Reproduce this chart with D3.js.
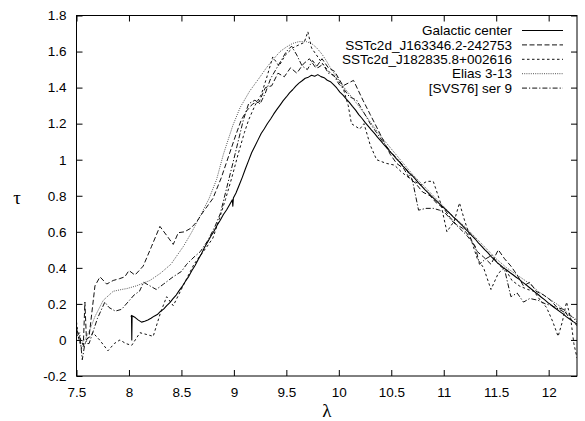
<!DOCTYPE html>
<html>
<head>
<meta charset="utf-8">
<script src="https://cdn.jsdelivr.net/npm/d3@7"></script>
<style>
  body { margin: 0; background: #fff; }
  svg text { font-family: "Liberation Sans", Arial, Helvetica, sans-serif; font-size: 13.5px; fill: #000; }
</style>
</head>
<body>
<svg id="chart" width="585" height="421"></svg>
<script>
// tick values
var xTicks = [7.5, 8, 8.5, 9, 9.5, 10, 10.5, 11, 11.5, 12];
var yTicks = [-0.2, 0, 0.2, 0.4, 0.6, 0.8, 1, 1.2, 1.4, 1.6, 1.8];

// series names, in key order
var names = ["Galactic center", "SSTc2d_J163346.2-242753", "SSTc2d_J182835.8+002616", "Elias 3-13", "[SVS76] ser 9"];

// [lambda, tau] pairs
var galactic = [[8.020,0.128],[8.024,0.136],[8.027,0.0],[8.030,0.134],[8.06,0.124],[8.09,0.110],[8.12,0.099],[8.15,0.104],[8.18,0.111],[8.21,0.120],[8.24,0.132],[8.27,0.141],[8.30,0.158],[8.33,0.171],[8.36,0.190],[8.39,0.207],[8.42,0.229],[8.45,0.249],[8.48,0.275],[8.51,0.299],[8.54,0.327],[8.57,0.353],[8.60,0.385],[8.63,0.413],[8.66,0.447],[8.69,0.477],[8.72,0.513],[8.75,0.543],[8.78,0.575],[8.81,0.603],[8.84,0.637],[8.87,0.664],[8.90,0.696],[8.93,0.721],[8.96,0.752],[8.985,0.777],[8.99,0.742],[8.995,0.787],[9.02,0.815],[9.05,0.858],[9.08,0.902],[9.11,0.950],[9.14,0.995],[9.17,1.040],[9.20,1.075],[9.23,1.110],[9.26,1.145],[9.29,1.172],[9.32,1.201],[9.35,1.226],[9.38,1.254],[9.41,1.279],[9.44,1.303],[9.47,1.328],[9.50,1.348],[9.53,1.371],[9.56,1.388],[9.59,1.408],[9.62,1.425],[9.65,1.438],[9.68,1.452],[9.71,1.458],[9.74,1.468],[9.77,1.463],[9.80,1.472],[9.83,1.461],[9.86,1.455],[9.89,1.441],[9.92,1.433],[9.95,1.417],[9.98,1.398],[10.01,1.375],[10.04,1.358],[10.07,1.337],[10.10,1.318],[10.13,1.296],[10.16,1.275],[10.19,1.250],[10.22,1.230],[10.25,1.207],[10.28,1.186],[10.31,1.165],[10.34,1.146],[10.37,1.124],[10.40,1.104],[10.43,1.083],[10.46,1.064],[10.49,1.043],[10.52,1.025],[10.55,1.004],[10.58,0.987],[10.61,0.964],[10.64,0.948],[10.67,0.927],[10.70,0.911],[10.73,0.892],[10.76,0.872],[10.79,0.853],[10.82,0.834],[10.85,0.817],[10.88,0.799],[10.91,0.783],[10.94,0.766],[10.97,0.749],[11.00,0.734],[11.03,0.717],[11.06,0.701],[11.09,0.683],[11.12,0.667],[11.15,0.649],[11.18,0.633],[11.21,0.614],[11.24,0.597],[11.27,0.577],[11.30,0.560],[11.33,0.539],[11.36,0.521],[11.39,0.501],[11.42,0.484],[11.45,0.464],[11.48,0.447],[11.51,0.429],[11.54,0.415],[11.57,0.400],[11.60,0.388],[11.63,0.374],[11.66,0.362],[11.69,0.348],[11.72,0.336],[11.75,0.321],[11.78,0.308],[11.81,0.294],[11.84,0.280],[11.87,0.265],[11.90,0.252],[11.93,0.237],[11.96,0.224],[11.99,0.208],[12.02,0.196],[12.05,0.181],[12.08,0.169],[12.11,0.156],[12.14,0.143],[12.17,0.128],[12.20,0.116],[12.23,0.103],[12.26,0.092],[12.27,0.088]];

var sst163346 = [[7.50,0.06],[7.54,0.00],[7.565,-0.03],[7.58,0.21],[7.595,0.0],[7.62,0.02],[7.676,0.30],[7.724,0.35],[7.788,0.31],[7.85,0.33],[7.91,0.34],[7.96,0.35],[8.00,0.385],[8.057,0.36],[8.105,0.39],[8.136,0.41],[8.216,0.52],[8.295,0.63],[8.359,0.58],[8.422,0.53],[8.47,0.595],[8.53,0.60],[8.59,0.62],[8.645,0.655],[8.707,0.71],[8.80,0.785],[8.88,0.90],[8.95,1.02],[9.02,1.14],[9.07,1.22],[9.12,1.27],[9.18,1.31],[9.24,1.32],[9.30,1.40],[9.36,1.41],[9.42,1.48],[9.48,1.46],[9.54,1.51],[9.60,1.48],[9.66,1.53],[9.72,1.56],[9.78,1.51],[9.84,1.56],[9.90,1.51],[9.96,1.49],[10.04,1.41],[10.14,1.44],[10.23,1.33],[10.30,1.25],[10.37,1.17],[10.43,1.10],[10.49,1.03],[10.55,0.98],[10.62,0.95],[10.67,0.90],[10.73,0.87],[10.80,0.82],[10.87,0.80],[10.93,0.76],[11.00,0.73],[11.06,0.68],[11.12,0.64],[11.18,0.62],[11.25,0.57],[11.32,0.49],[11.38,0.46],[11.45,0.42],[11.52,0.50],[11.58,0.45],[11.64,0.41],[11.70,0.36],[11.76,0.30],[11.82,0.32],[11.88,0.27],[11.95,0.25],[12.02,0.22],[12.08,0.18],[12.14,0.17],[12.20,0.12],[12.27,0.08]];

var sst182835 = [[7.50,0.10],[7.52,0.01],[7.55,-0.05],[7.60,0.00],[7.657,0.04],[7.72,0.00],[7.80,-0.06],[7.86,-0.02],[7.914,0.00],[7.97,-0.02],[8.026,-0.03],[8.105,0.04],[8.17,0.03],[8.231,0.02],[8.30,0.15],[8.359,0.24],[8.422,0.19],[8.49,0.27],[8.55,0.34],[8.62,0.42],[8.676,0.465],[8.74,0.515],[8.80,0.565],[8.86,0.67],[8.92,0.78],[8.98,0.90],[9.04,1.03],[9.10,1.15],[9.14,1.22],[9.20,1.30],[9.26,1.36],[9.31,1.45],[9.37,1.57],[9.43,1.52],[9.49,1.58],[9.56,1.62],[9.63,1.64],[9.67,1.65],[9.705,1.71],[9.74,1.62],[9.80,1.57],[9.86,1.52],[9.92,1.48],[9.98,1.45],[10.04,1.40],[10.09,1.30],[10.12,1.20],[10.20,1.17],[10.24,1.20],[10.30,1.08],[10.36,1.00],[10.45,0.98],[10.53,0.97],[10.60,0.93],[10.69,0.89],[10.78,0.86],[10.84,0.88],[10.90,0.88],[10.97,0.76],[11.03,0.60],[11.10,0.66],[11.15,0.76],[11.20,0.66],[11.27,0.54],[11.32,0.45],[11.38,0.40],[11.45,0.28],[11.52,0.37],[11.58,0.40],[11.65,0.33],[11.72,0.30],[11.80,0.28],[11.86,0.27],[11.92,0.22],[11.98,0.18],[12.04,0.10],[12.09,0.02],[12.13,0.10],[12.17,0.21],[12.21,0.12],[12.24,-0.02],[12.27,-0.10]];

var elias = [[7.50,0.04],[7.54,-0.02],[7.58,0.00],[7.63,0.06],[7.676,0.13],[7.755,0.22],[7.85,0.27],[7.93,0.28],[7.98,0.285],[8.07,0.30],[8.20,0.33],[8.30,0.37],[8.40,0.42],[8.52,0.52],[8.60,0.60],[8.68,0.69],[8.76,0.78],[8.835,0.89],[8.90,1.03],[8.99,1.19],[9.06,1.29],[9.15,1.38],[9.25,1.46],[9.31,1.51],[9.38,1.56],[9.44,1.60],[9.50,1.625],[9.56,1.645],[9.62,1.655],[9.69,1.655],[9.74,1.645],[9.79,1.62],[9.84,1.585],[9.88,1.55],[9.93,1.50],[9.98,1.46],[10.05,1.40],[10.12,1.35],[10.2,1.29],[10.3,1.21],[10.4,1.13],[10.5,1.06],[10.6,0.99],[10.7,0.92],[10.8,0.86],[10.9,0.80],[11.0,0.74],[11.1,0.68],[11.2,0.63],[11.3,0.57],[11.4,0.51],[11.5,0.45],[11.6,0.40],[11.7,0.36],[11.8,0.32],[11.9,0.27],[12.0,0.23],[12.1,0.19],[12.2,0.14],[12.27,0.11]];

var svs76 = [[7.50,0.02],[7.53,0.04],[7.555,-0.11],[7.58,-0.02],[7.62,-0.02],[7.70,0.12],[7.77,0.21],[7.81,0.18],[7.87,0.16],[7.93,0.17],[7.99,0.21],[8.05,0.25],[8.10,0.27],[8.14,0.32],[8.20,0.30],[8.26,0.28],[8.33,0.31],[8.42,0.35],[8.50,0.38],[8.55,0.42],[8.62,0.46],[8.68,0.49],[8.75,0.55],[8.82,0.63],[8.87,0.70],[8.93,0.84],[8.99,0.98],[9.04,1.10],[9.09,1.22],[9.14,1.31],[9.20,1.33],[9.25,1.31],[9.30,1.37],[9.35,1.45],[9.40,1.50],[9.45,1.55],[9.50,1.60],[9.55,1.63],[9.60,1.58],[9.65,1.52],[9.70,1.50],[9.75,1.55],[9.80,1.51],[9.85,1.53],[9.90,1.48],[9.95,1.47],[10.0,1.42],[10.05,1.39],[10.10,1.35],[10.17,1.33],[10.23,1.27],[10.30,1.20],[10.36,1.15],[10.42,1.10],[10.50,1.04],[10.58,0.99],[10.65,0.94],[10.70,0.89],[10.76,0.72],[10.83,0.73],[10.90,0.73],[10.96,0.72],[11.02,0.70],[11.08,0.66],[11.15,0.62],[11.22,0.58],[11.30,0.52],[11.34,0.42],[11.40,0.45],[11.46,0.47],[11.52,0.42],[11.58,0.39],[11.64,0.24],[11.70,0.26],[11.76,0.21],[11.82,0.23],[11.90,0.22],[11.97,0.20],[12.03,0.19],[12.10,0.17],[12.16,0.15],[12.22,0.13],[12.27,0.10]];

var svg = d3.select("#chart");

var margin = {top: 15.5, right: 8, bottom: 45, left: 76.5},
    width  = 585 - margin.left - margin.right,
    height = 421 - margin.top - margin.bottom;

var x = d3.scaleLinear().domain([7.5, 12.27]).range([margin.left, margin.left + width]),
    y = d3.scaleLinear().domain([-0.2, 1.8]).range([margin.top + height, margin.top]);

var fmt = function(d) { return String(+d.toFixed(1)); };

/* line styles: solid, long dash, short dash, dotted grey, dash-dot */
var styles = [
  {data: galactic,  stroke: "#000", width: 1.1, dash: null},
  {data: sst163346, stroke: "#111", width: 1,   dash: "5,2.5"},
  {data: sst182835, stroke: "#111", width: 1,   dash: "2.5,2.5"},
  {data: elias,     stroke: "#555", width: 1,   dash: "1,1.2"},
  {data: svs76,     stroke: "#111", width: 1,   dash: "5,2,1.2,2"}
];

svg.append("clipPath").attr("id", "plot-clip")
  .append("rect")
  .attr("x", margin.left).attr("y", margin.top)
  .attr("width", width).attr("height", height);

// axes with inward ticks, mirrored on top and right
function styleAxis(g) {
  g.select(".domain").remove();
  g.selectAll(".tick line").attr("stroke", "#000");
  g.selectAll(".tick text").style("font-family", "'Liberation Sans', Arial, sans-serif").style("font-size", "13.5px").attr("fill", "#000");
}

svg.append("g")
  .attr("transform", "translate(0," + (margin.top + height) + ")")
  .call(d3.axisBottom(x).tickValues(xTicks).tickSize(-6).tickPadding(11).tickFormat(fmt))
  .call(styleAxis);

svg.append("g")
  .attr("transform", "translate(0," + margin.top + ")")
  .call(d3.axisTop(x).tickValues(xTicks).tickSize(-6).tickFormat(""))
  .call(styleAxis);

svg.append("g")
  .attr("transform", "translate(" + margin.left + ",0)")
  .call(d3.axisLeft(y).tickValues(yTicks).tickSize(-6).tickPadding(10).tickFormat(fmt))
  .call(styleAxis);

svg.append("g")
  .attr("transform", "translate(" + (margin.left + width) + ",0)")
  .call(d3.axisRight(y).tickValues(yTicks).tickSize(-6).tickFormat(""))
  .call(styleAxis);

var line = d3.line()
  .x(function(d) { return x(d[0]); })
  .y(function(d) { return y(d[1]); });

var plot = svg.append("g").attr("clip-path", "url(#plot-clip)");

// draw back to front so the solid curve sits on top
for (var i = styles.length - 1; i >= 0; i--) {
  plot.append("path")
    .datum(styles[i].data)
    .attr("d", line)
    .attr("fill", "none")
    .attr("stroke", styles[i].stroke)
    .attr("stroke-width", styles[i].width)
    .attr("stroke-dasharray", styles[i].dash)
    .attr("stroke-linejoin", "round");
}

svg.append("rect")
  .attr("x", margin.left).attr("y", margin.top)
  .attr("width", width).attr("height", height)
  .attr("fill", "none").attr("stroke", "#000").attr("stroke-width", 1);

// key
var key = svg.append("g");
for (let i = 0; i < names.length; i++) {
  var ky = 30.5 + i * 14.4;
  key.append("text")
    .attr("x", 512)
    .attr("y", ky)
    .attr("dy", "0.35em")
    .style("text-anchor", "end")
    .text(names[i]);
  key.append("line")
    .attr("x1", 522).attr("x2", 563)
    .attr("y1", ky).attr("y2", ky)
    .attr("stroke", styles[i].stroke)
    .attr("stroke-width", styles[i].width)
    .attr("stroke-dasharray", styles[i].dash);
}

svg.append("text")
  .attr("x", 17)
  .attr("y", 197)
  .attr("dy", "0.35em")
  .style("text-anchor", "middle")
  .style("font-family", "'Liberation Serif', 'DejaVu Serif', serif")
  .style("font-size", "19px")
  .text("τ");

svg.append("text")
  .attr("x", margin.left + width / 2)
  .attr("y", 410)
  .attr("dy", "0.35em")
  .style("text-anchor", "middle")
  .style("font-family", "'Liberation Serif', 'DejaVu Serif', serif")
  .style("font-size", "19px")
  .text("λ");
</script>
</body>
</html>
